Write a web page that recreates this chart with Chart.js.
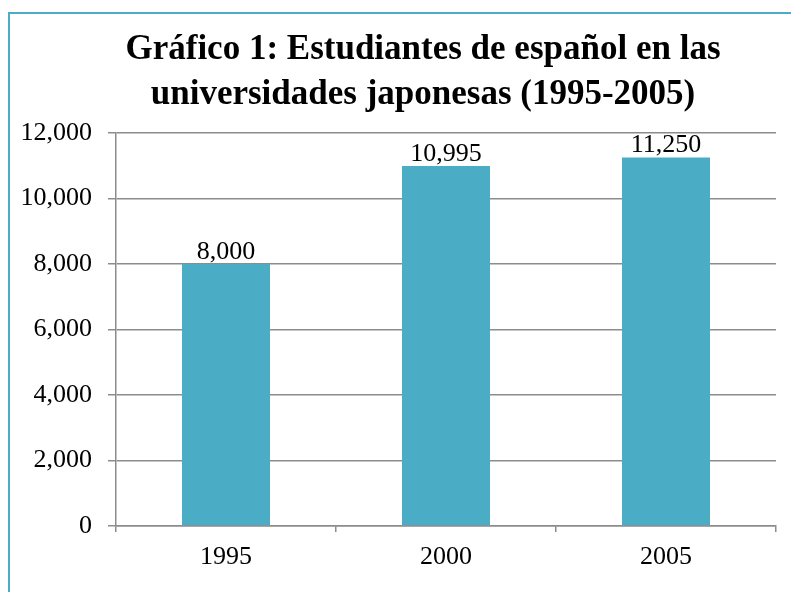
<!DOCTYPE html>
<html>
<head>
<meta charset="utf-8">
<script src="https://cdn.jsdelivr.net/npm/chart.js@4"></script>
<style>
  html, body { margin:0; padding:0; background:#fff; overflow:hidden; }
  #marco { position:absolute; left:8px; top:12px; width:900px; height:700px; border:2px solid #4BACC6; }
  #wrap { position:absolute; left:0; top:0; width:791px; height:592px; }
</style>
</head>
<body>
<div id="marco"></div>
<div id="wrap"><canvas id="chart" width="791" height="592"></canvas></div>
<script>
  // datos del gráfico
  const anios       = ['1995', '2000', '2005'];
  const estudiantes = [8000, 10995, 11250];
  const ejeY        = { min: 0, max: 12000, paso: 2000 };
  const titulo      = ['Gráfico 1: Estudiantes de español en las', 'universidades japonesas (1995-2005)'];

  const fmt = v => Number(v).toLocaleString('en-US');
  const FUENTE = "'Liberation Serif', 'Times New Roman', serif";

  // título centrado sobre el marco (no sobre el canvas)
  const tituloPlugin = {
    id: 'tituloPlugin',
    afterDraw(chart) {
      const ctx = chart.ctx;
      ctx.save();
      ctx.font = "bold 35px " + FUENTE;
      ctx.fillStyle = '#000';
      ctx.textAlign = 'center';
      ctx.textBaseline = 'middle';
      titulo.forEach((linea, i) => ctx.fillText(linea, 423, 50 + i * 45));
      ctx.restore();
    }
  };

  // etiquetas de valor sobre cada barra
  const etiquetas = {
    id: 'etiquetas',
    afterDatasetsDraw(chart) {
      const ctx = chart.ctx;
      const meta = chart.getDatasetMeta(0);
      ctx.save();
      ctx.font = "26px " + FUENTE;
      ctx.fillStyle = '#000';
      ctx.textAlign = 'center';
      ctx.textBaseline = 'bottom';
      meta.data.forEach((bar, i) => {
        ctx.fillText(fmt(estudiantes[i]), bar.x, bar.y + 1);
      });
      ctx.restore();
    }
  };

  const ctx = document.getElementById('chart').getContext('2d');
  new Chart(ctx, {
    type: 'bar',
    data: {
      labels: anios,
      datasets: [{
        data: estudiantes,
        backgroundColor: '#4BACC6',
        categoryPercentage: 0.4,
        barPercentage: 1.0
      }]
    },
    options: {
      responsive: false,
      animation: false,
      layout: { padding: { left: 0, right: 15, top: 133, bottom: 0 } },
      plugins: {
        legend: { display: false },
        tooltip: { enabled: false },
        title: { display: false }
      },
      scales: {
        x: {
          grid: { offset: true, drawOnChartArea: false, drawTicks: true, tickLength: 6, color: '#8c8c8c', lineWidth: 1.5 },
          border: { color: '#8c8c8c', width: 1.5 },
          ticks: { color: '#000', font: { family: FUENTE, size: 26 }, padding: 10 },
          afterFit: s => { s.height = 66; }
        },
        y: {
          min: ejeY.min, max: ejeY.max,
          grid: { color: '#8c8c8c', lineWidth: 1.5, tickLength: 8 },
          border: { color: '#8c8c8c', width: 1.5 },
          ticks: {
            stepSize: ejeY.paso,
            color: '#000',
            font: { family: FUENTE, size: 26 },
            padding: 16,
            callback: v => fmt(v)
          },
          afterFit: s => { s.width = 116; }
        }
      }
    },
    plugins: [etiquetas, tituloPlugin]
  });
</script>
</body>
</html>
